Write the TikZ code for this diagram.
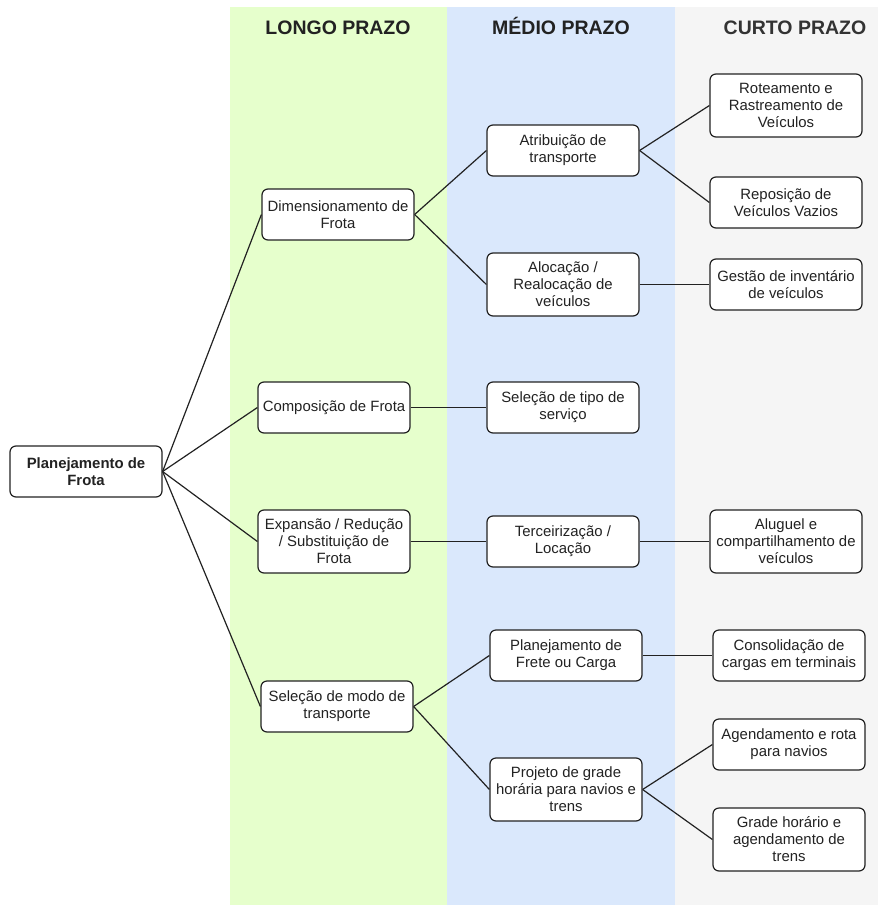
\documentclass[tikz,border=0pt]{standalone}
\usepackage{fontspec}
\setmainfont{Liberation Sans}
\definecolor{longo}{HTML}{E6FFCC}
\definecolor{medio}{HTML}{DAE8FC}
\definecolor{curto}{HTML}{F5F5F5}
\definecolor{ink}{HTML}{222222}
\tikzset{
  box/.style={draw=ink, fill=white, rounded corners=6pt, line width=1.2pt,
    minimum width=152pt, minimum height=51pt, align=center, inner sep=2pt,
    text=ink, font=\fontsize{14.9}{17}\selectfont},
  tall/.style={minimum height=63pt},
  head/.style={font=\fontsize{19.5}{22}\selectfont\bfseries, text=ink, anchor=base},
  link/.style={draw=ink, line width=1.2pt}
}
\begin{document}
\begin{tikzpicture}[x=1pt, y=-1pt]
\useasboundingbox (0,0) rectangle (878,905);
% time-horizon bands
\fill[longo] (230,7) rectangle (447,905);
\fill[medio] (447,7) rectangle (675,905);
\fill[curto] (675,7) rectangle (878,905);
\node[head] (hl) at (338,34.5) {LONGO PRAZO};
\node[head] (hm) at (561,34.5) {MÉDIO PRAZO};
\node[head, text=black!80] (hc) at (795,34.5) {CURTO PRAZO};

% root
\node[box, font=\fontsize{14.9}{17}\selectfont\bfseries] (plan) at (86,471.5) {Planejamento de\\Frota};

% long term
\node[box] (dim) at (338,214.5) {Dimensionamento de\\Frota};
\node[box] (comp) at (334,407.5) {Composição de Frota};
\node[box, tall] (exp) at (334,541.5) {Expansão / Redução\\/ Substituição de\\Frota};
\node[box] (selm) at (337,706.5) {Seleção de modo de\\transporte};

% medium term
\node[box] (atr) at (563,150.5) {Atribuição de\\transporte};
\node[box, tall] (aloc) at (563,284.5) {Alocação /\\Realocação de\\veículos};
\node[box] (selt) at (563,407.5) {Seleção de tipo de\\serviço};
\node[box] (terc) at (563,541.5) {Terceirização /\\Locação};
\node[box] (frete) at (566,655.5) {Planejamento de\\Frete ou Carga};
\node[box, tall] (proj) at (566,789.5) {Projeto de grade\\horária para navios e\\trens};

% short term
\node[box, tall] (rot) at (786,105.5) {Roteamento e\\Rastreamento de\\Veículos};
\node[box] (rep) at (786,202.5) {Reposição de\\Veículos Vazios};
\node[box] (gest) at (786,284.5) {Gestão de inventário\\de veículos};
\node[box, tall] (alug) at (786,541.5) {Aluguel e\\compartilhamento de\\veículos};
\node[box] (cons) at (789,655.5) {Consolidação de\\cargas em terminais};
\node[box] (agen) at (789,744.5) {Agendamento e rota\\para navios};
\node[box, tall] (grade) at (789,839.5) {Grade horário e\\agendamento de\\trens};

% connectors
\draw[link] (plan.east) -- (dim.west);
\draw[link] (plan.east) -- (comp.west);
\draw[link] (plan.east) -- (exp.west);
\draw[link] (plan.east) -- (selm.west);
\draw[link] (dim.east) -- (atr.west);
\draw[link] (dim.east) -- (aloc.west);
\draw[link] (atr.east) -- (rot.west);
\draw[link] (atr.east) -- (rep.west);
\draw[link] (aloc.east) -- (gest.west);
\draw[link] (comp.east) -- (selt.west);
\draw[link] (exp.east) -- (terc.west);
\draw[link] (terc.east) -- (alug.west);
\draw[link] (selm.east) -- (frete.west);
\draw[link] (selm.east) -- (proj.west);
\draw[link] (frete.east) -- (cons.west);
\draw[link] (proj.east) -- (agen.west);
\draw[link] (proj.east) -- (grade.west);
\end{tikzpicture}
\end{document}
